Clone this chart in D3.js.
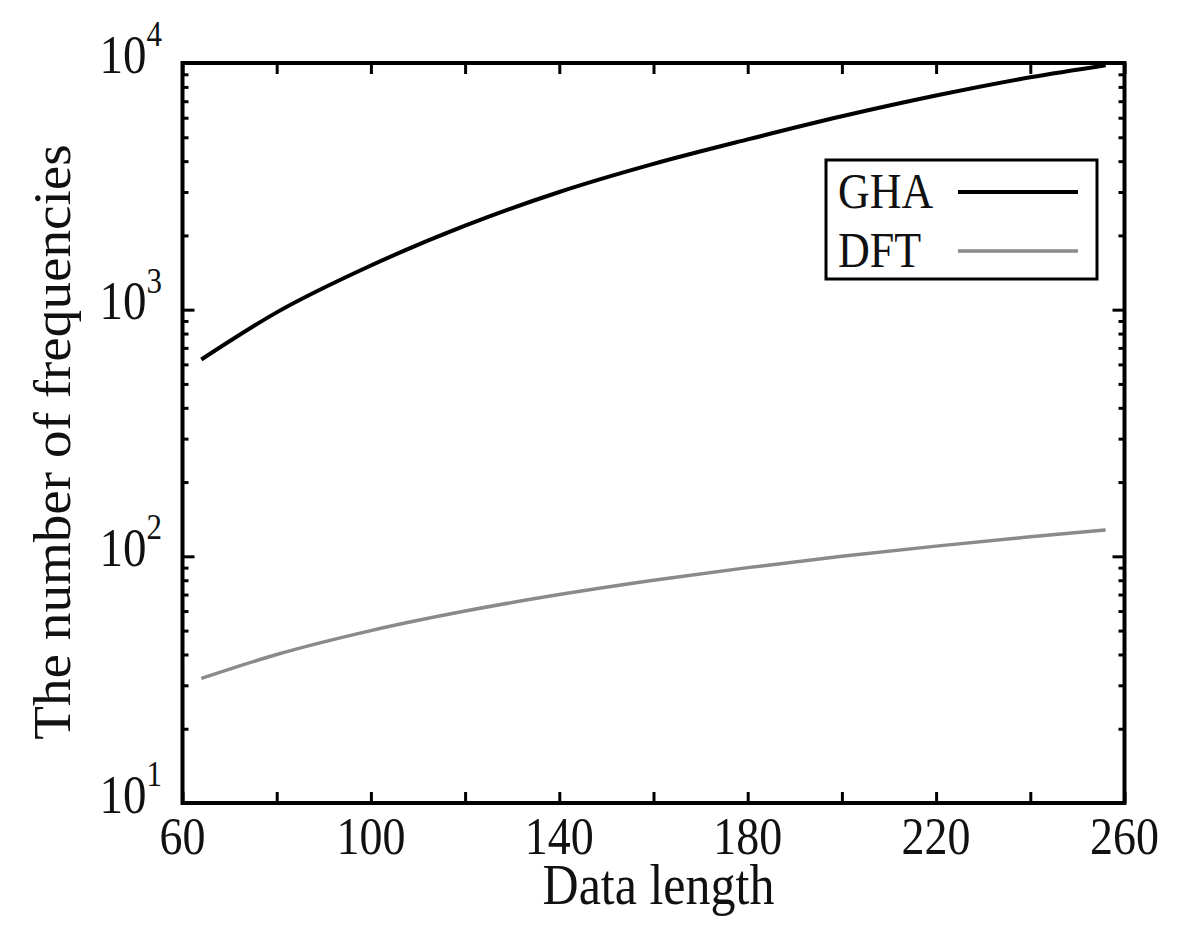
<!DOCTYPE html>
<html>
<head>
<meta charset="utf-8">
<script src="https://cdn.jsdelivr.net/npm/d3@7"></script>
<style>
  html, body { margin: 0; padding: 0; background: #fff; }
  svg { display: block; }
  text { font-family: "Liberation Serif", "DejaVu Serif", serif; fill: #111; }
</style>
</head>
<body>
<svg id="chart" width="1200" height="942"></svg>
<script>
// ---- data ----
const dataLength = [64, 80, 100, 120, 140, 160, 180, 200, 220, 240, 256];
const ghaValues  = [628, 975, 1510, 2190, 3000, 3900, 4900, 6080, 7380, 8750, 9800];
const dftValues  = [32, 40, 50, 60, 70, 80, 90, 100, 110, 120, 128];
const xTickValues = [60, 80, 100, 120, 140, 160, 180, 200, 220, 240, 260];
const xTickLabels = ["60", "", "100", "", "140", "", "180", "", "220", "", "260"];
const yTickExponents = [1, 2, 3, 4];
const seriesNames = ["GHA", "DFT"];
const xTitle = "Data length";
const yTitle = "The number of frequencies";

(function () {
const svg = d3.select("#chart");
const pL = 182.5, pR = 1124.5, pT = 63, pB = 803;
const SY = 1.15; // vertical text stretch seen in reference

const x = d3.scaleLinear().domain([60, 260]).range([pL, pR]);
const y = d3.scaleLog().domain([10, 10000]).range([pB, pT]);

const yMajor = yTickExponents.map(e => Math.pow(10, e));
const yMinor = [];
for (let e = 1; e < 4; e++) for (let m = 2; m <= 9; m++) yMinor.push(m * Math.pow(10, e));

const g = svg.append("g");

function styleAxis(sel) {
  sel.select(".domain").remove();
  sel.selectAll(".tick line").attr("stroke", "#000").attr("stroke-width", 3);
  sel.selectAll(".tick text").remove();
}
g.append("g").attr("transform", `translate(0,${pB})`)
  .call(d3.axisTop(x).tickValues(xTickValues).tickSize(11)).call(styleAxis);
g.append("g").attr("transform", `translate(0,${pT})`)
  .call(d3.axisBottom(x).tickValues(xTickValues).tickSize(11)).call(styleAxis);
g.append("g").attr("transform", `translate(${pL},0)`)
  .call(d3.axisRight(y).tickValues(yMajor).tickSize(12)).call(styleAxis);
g.append("g").attr("transform", `translate(${pL},0)`)
  .call(d3.axisRight(y).tickValues(yMinor).tickSize(6)).call(styleAxis);
g.append("g").attr("transform", `translate(${pR},0)`)
  .call(d3.axisLeft(y).tickValues(yMajor).tickSize(12)).call(styleAxis);
g.append("g").attr("transform", `translate(${pR},0)`)
  .call(d3.axisLeft(y).tickValues(yMinor).tickSize(6)).call(styleAxis);

g.append("rect").attr("x", pL).attr("y", pT)
  .attr("width", pR - pL).attr("height", pB - pT)
  .attr("fill", "none").attr("stroke", "#000").attr("stroke-width", 4);

xTickValues.forEach((v, i) => {
  if (!xTickLabels[i]) return;
  g.append("text")
    .attr("transform", `translate(${x(v)},854) scale(1,${SY})`)
    .attr("text-anchor", "middle")
    .style("font-size", "46px")
    .text(xTickLabels[i]);
});

yTickExponents.forEach(e => {
  const yy = y(Math.pow(10, e)) + 9.5;
  const t = g.append("text")
    .attr("transform", `translate(162,${yy}) scale(1,${SY})`)
    .attr("text-anchor", "end")
    .style("font-size", "47px");
  t.append("tspan").text("10");
  t.append("tspan").attr("dy", -23).style("font-size", "31px").text(String(e));
});

g.append("text")
  .attr("transform", `translate(${(pL + pR) / 2 + 5},904) scale(1,${SY})`)
  .attr("text-anchor", "middle")
  .style("font-size", "50px")
  .text(xTitle);
g.append("text")
  .attr("transform", `translate(70,442) rotate(-90) scale(1.06,1)`)
  .attr("text-anchor", "middle")
  .style("font-size", "52px")
  .text(yTitle);

const line = d3.line().x(d => x(d[0])).y(d => y(d[1])).curve(d3.curveMonotoneX);
const ghaData = dataLength.map((n, i) => [n, ghaValues[i]]);
const dftData = dataLength.map((n, i) => [n, dftValues[i]]);
const colors = ["#000000", "#8a8a8a"];

g.append("path").datum(dftData).attr("d", line)
  .attr("fill", "none").attr("stroke", colors[1]).attr("stroke-width", 3.5);
g.append("path").datum(ghaData).attr("d", line)
  .attr("fill", "none").attr("stroke", colors[0]).attr("stroke-width", 4);

const lg = g.append("g");
lg.append("rect").attr("x", 826).attr("y", 160).attr("width", 271).attr("height", 119)
  .attr("fill", "#fff").attr("stroke", "#000").attr("stroke-width", 3);
seriesNames.forEach((name, i) => {
  const ly = [192, 251][i];
  lg.append("text")
    .attr("transform", `translate(838,${ly + 16}) scale(1,${SY})`)
    .attr("text-anchor", "start")
    .style("font-size", "44px")
    .text(name);
  lg.append("line").attr("x1", 958).attr("x2", 1078).attr("y1", ly).attr("y2", ly)
    .attr("stroke", colors[i]).attr("stroke-width", i === 0 ? 4 : 3.5);
});
})();
</script>
</body>
</html>
